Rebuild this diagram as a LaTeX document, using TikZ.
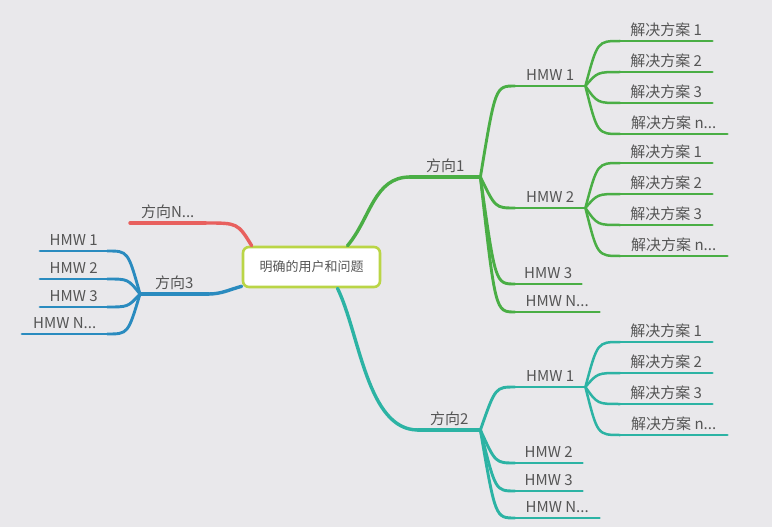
\documentclass[tikz,border=0pt]{standalone}
\usepackage{fontspec}
\setmainfont{Noto Sans CJK SC}
\usepackage{xcolor}
\usetikzlibrary{calc}

\definecolor{bgc}{HTML}{E9E8EB}
\definecolor{txt}{HTML}{555555}
\definecolor{limec}{HTML}{BAD546}
\definecolor{grnc}{HTML}{4AAE45}
\definecolor{tealc}{HTML}{2CB3A4}
\definecolor{bluc}{HTML}{2A8BBF}
\definecolor{redc}{HTML}{E8605E}

\tikzset{
  topic/.style={anchor=south west, minimum width=#1, inner xsep=0pt, inner ysep=3pt,
    text height=11pt, text depth=2pt, text=txt, font=\fontsize{15}{17}\selectfont},
  main/.style={line width=3.4pt, line cap=round},
  sub/.style={line width=2.9pt, line cap=round},
  leaf/.style={line width=2.5pt, line cap=round},
}

\begin{document}
\begin{tikzpicture}[x=1pt, y=-1pt]

            \fill[bgc] (0,0) rectangle (772,527);
            \useasboundingbox (0,0) rectangle (772,527);

            % Root
            \node[draw=limec, line width=2.6pt, fill=white, rounded corners=6pt, minimum width=137pt,
                  minimum height=40pt, text=txt, font=\fontsize{13}{15}\selectfont] (root) at (311.5,267) {明确的用户和问题};

            % Main topics
            \node[topic=70] (d1) at (410,177) {方向1};
            \node[topic=62] (d2) at (418,430) {方向2};
            \node[topic=68] (d3) at (140,294) {方向3};
            \node[topic=75] (dn) at (130,223) {方向N...};

            \draw[grnc, main] (d1.south west) -- (d1.south east);
            \draw[tealc, main] (d2.south west) -- (d2.south east);
            \draw[bluc, main] (d3.south west) -- (d3.south east);
            \draw[redc, main] (dn.south west) -- (dn.south east);

            \draw[grnc, main] ([xshift=36pt]root.north) to[out=50, in=180] (d1.south west);
            \draw[tealc, main] ([xshift=26pt]root.south) to[out=-64, in=180, looseness=0.8] (d2.south west);
            \draw[bluc, main] ([yshift=2pt]root.south west) to[out=195, in=0] (d3.south east);
            \draw[redc, main] ([xshift=10pt]root.north west) .. controls ($(root.north west |- dn.south east)+(-4,0)$) .. (dn.south east);

            % HMW of 方向1
            \foreach \i/\y/\w/\t in {1/86/70/{HMW 1}, 2/208/70/{HMW 2}, 3/284/66/{HMW 3}, n/312/84/{HMW N...}} {
              \node[topic=\w] (d1h\i) at (515,\y) {\t};
              \draw[grnc, sub] (d1h\i.south west) -- (d1h\i.south east);
              \draw[grnc, sub] (d1.south east) .. controls ($(d1.south east |- d1h\i.south west)+(15,0)$) .. (d1h\i.south west);
            }

            % HMW of 方向2
            \foreach \i/\y/\w/\t in {1/387/70/{HMW 1}, 2/463/67/{HMW 2}, 3/491/67/{HMW 3}, n/518/84/{HMW N...}} {
              \node[topic=\w] (d2h\i) at (515,\y) {\t};
              \draw[tealc, sub] (d2h\i.south west) -- (d2h\i.south east);
              \draw[tealc, sub] (d2.south east) .. controls ($(d2.south east |- d2h\i.south west)+(15,0)$) .. (d2h\i.south west);
            }

            % HMW of 方向3
            \foreach \i/\x/\y/\w/\t in {1/40/251/67/{HMW 1}, 2/40/279/67/{HMW 2}, 3/40/307/67/{HMW 3}, n/22/334/85/{HMW N...}} {
              \node[topic=\w] (d3h\i) at (\x,\y) {\t};
              \draw[bluc, sub] (d3h\i.south west) -- (d3h\i.south east);
              \draw[bluc, sub] (d3.south west) .. controls ($(d3.south west |- d3h\i.south east)+(-12,0)$) .. (d3h\i.south east);
            }

            % Solutions
            \foreach \h/\y/\c in {d1h1/41/grnc, d1h2/163/grnc, d2h1/342/tealc} {
              \foreach \i/\dy/\w/\t in {1/0/92/{解决方案 1}, 2/31/92/{解决方案 2}, 3/62/92/{解决方案 3}, 4/93/107/{解决方案 n...}} {
                \node[topic=\w] (\h-s\i) at (620,{\y+\dy}) {\t};
                \draw[\c, leaf] (\h-s\i.south west) -- (\h-s\i.south east);
                \draw[\c, leaf] (\h.south east) .. controls ($(\h.south east |- \h-s\i.south west)+(12,0)$) .. (\h-s\i.south west);
              }
            }

        \end{tikzpicture}
\end{document}
